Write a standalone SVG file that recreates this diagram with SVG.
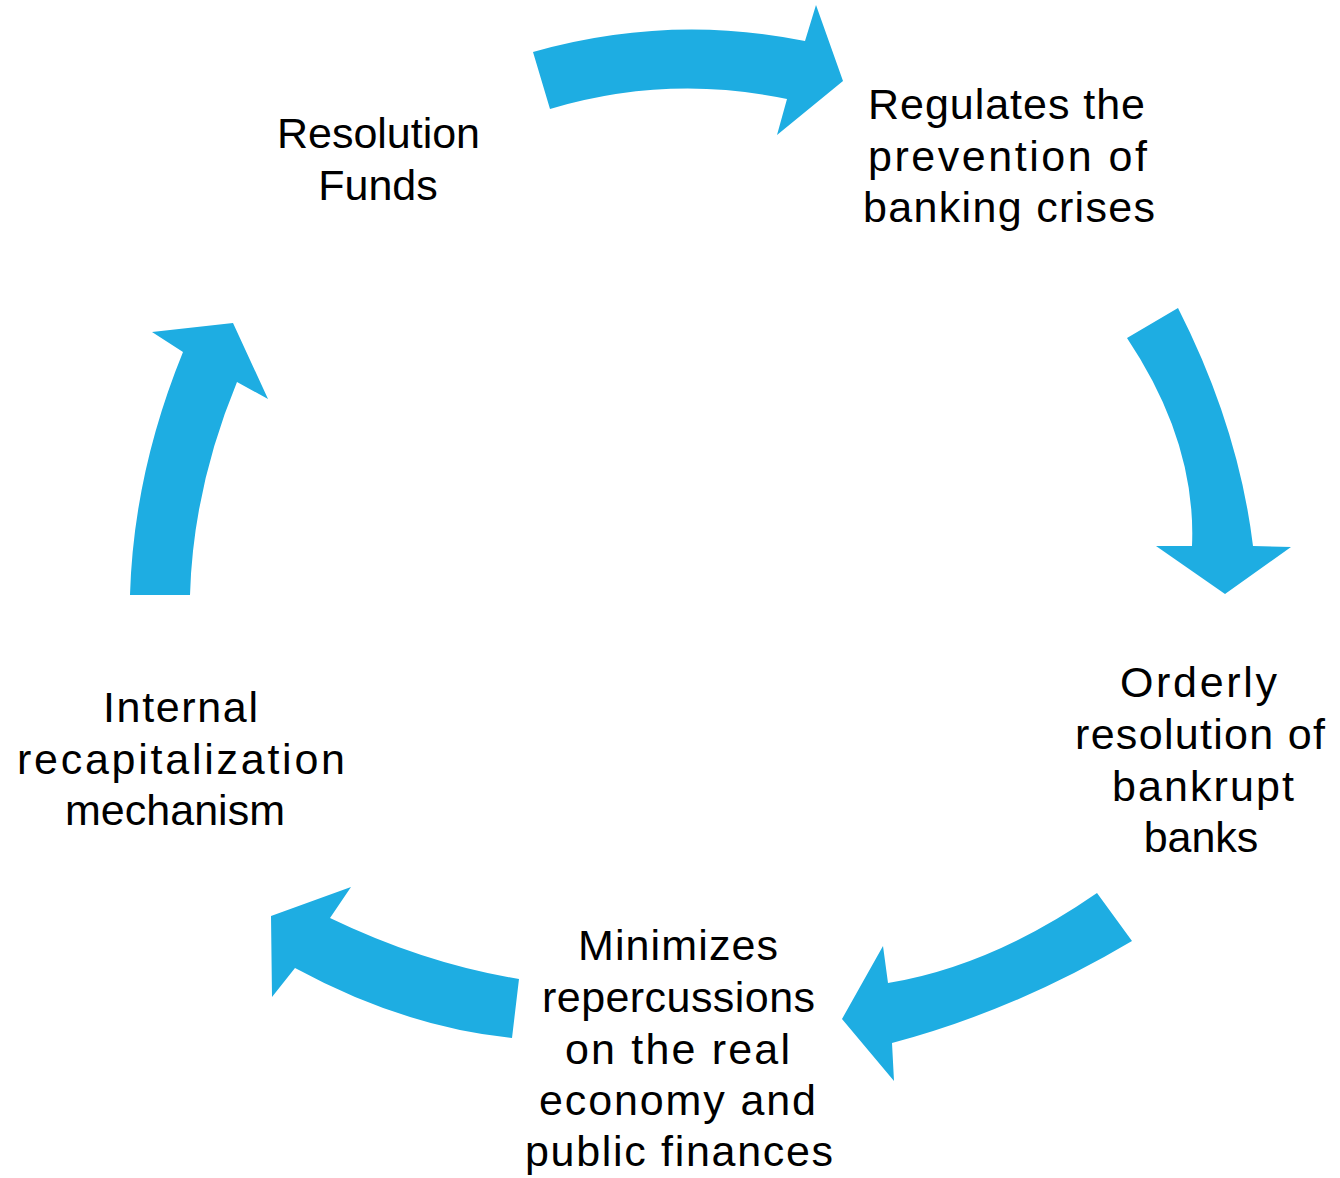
<svg xmlns="http://www.w3.org/2000/svg" width="1340" height="1178" viewBox="0 0 1340 1178">
<style>
.arr{fill:#1EADE2;stroke:none}
.t{font-family:"Liberation Sans",Arial,sans-serif;font-size:43px;fill:#000}
</style>
<rect width="1340" height="1178" fill="#fff"/>
<g id="connectors">
<path class="arr" d="M533,52 Q669,13.5 805,41 L816,5 L843,81 L777,135 L787,99 Q667.5,74 550,109 Z"/>
<path class="arr" d="M1127,338 L1178,308 Q1238.5,427 1253,546 L1291,547 L1225,594 L1156,546 L1192,546 Q1196.5,442 1127,338 Z"/>
<path class="arr" d="M1097,893 L1132,941 Q1016,1010 892,1043 L894,1081 L842,1019 L883,946 L888,983 Q991.5,966 1097,893 Z"/>
<path class="arr" d="M519,979 L512,1038 Q403.5,1027 295,968 L272,997 L271,916 L351,887 L330,918 Q424.5,963.5 519,979 Z"/>
<path class="arr" d="M130,595 L190,595 Q193,488.5 237,382 L268,399 L233,323 L152,332 L183,352 Q133.5,473.5 130,595 Z"/>
</g>
<g id="node-resolution-funds">
<text class="t" x="277" y="148" textLength="203" lengthAdjust="spacing">Resolution</text>
<text class="t" x="378" y="200" text-anchor="middle">Funds</text>
</g>
<g id="node-regulates">
<text class="t" x="868" y="119" textLength="277" lengthAdjust="spacing">Regulates the</text>
<text class="t" x="868" y="171" textLength="279" lengthAdjust="spacing">prevention of</text>
<text class="t" x="863" y="222" textLength="292" lengthAdjust="spacing">banking crises</text>
</g>
<g id="node-orderly">
<text class="t" x="1120" y="697" textLength="157" lengthAdjust="spacing">Orderly</text>
<text class="t" x="1075" y="749" textLength="250" lengthAdjust="spacing">resolution of</text>
<text class="t" x="1112" y="801" textLength="182" lengthAdjust="spacing">bankrupt</text>
<text class="t" x="1201" y="852" text-anchor="middle">banks</text>
</g>
<g id="node-minimizes">
<text class="t" x="578" y="960" textLength="200" lengthAdjust="spacing">Minimizes</text>
<text class="t" x="542" y="1012" textLength="273" lengthAdjust="spacing">repercussions</text>
<text class="t" x="565" y="1064" textLength="225" lengthAdjust="spacing">on the real</text>
<text class="t" x="539" y="1115" textLength="277" lengthAdjust="spacing">economy and</text>
<text class="t" x="525" y="1166" textLength="308" lengthAdjust="spacing">public finances</text>
</g>
<g id="node-internal">
<text class="t" x="103" y="722" textLength="155" lengthAdjust="spacing">Internal</text>
<text class="t" x="17" y="774" textLength="328" lengthAdjust="spacing">recapitalization</text>
<text class="t" x="65" y="825" textLength="220" lengthAdjust="spacing">mechanism</text>
</g>
</svg>
